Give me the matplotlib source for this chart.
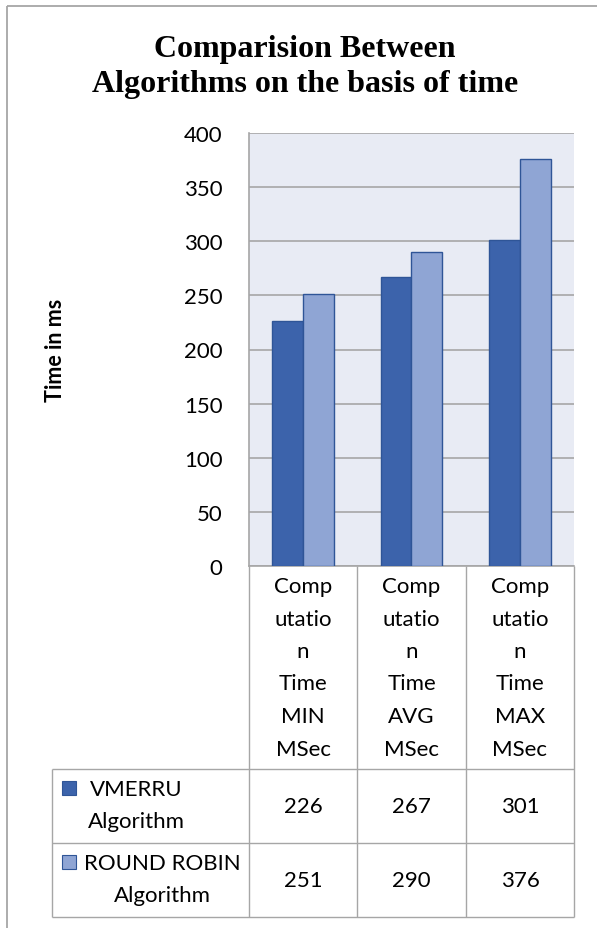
import matplotlib
matplotlib.use("Agg")
import matplotlib.pyplot as plt
from matplotlib.lines import Line2D
from matplotlib.patches import Rectangle
import numpy as np

# ---- data ----
categories = [
    ["Comp", "utatio", "n", "Time", "MIN", "MSec"],
    ["Comp", "utatio", "n", "Time", "AVG", "MSec"],
    ["Comp", "utatio", "n", "Time", "MAX", "MSec"],
]
series_names = [["VMERRU", "Algorithm"], ["ROUND ROBIN", "Algorithm"]]
vmerru = [226, 267, 301]
round_robin = [251, 290, 376]
yticks = [0, 50, 100, 150, 200, 250, 300, 350, 400]

title_lines = ["Comparision Between", "Algorithms on the basis of time"]
ylabel = "Time in ms"

# ---- style ----
W, H = 597, 929
DARK = "#3C63AB"
LIGHT = "#8FA5D4"
EDGE = "#2F5597"
GRID = "#A6A6A6"
PLOT_BG = "#E8EBF4"
FONT = "Lato"
FS = 16

fig = plt.figure(figsize=(W / 100, H / 100), dpi=100)
fig.patch.set_facecolor("white")


def fx(x):
    return x / W


def fy(y):
    return 1 - y / H


def hline(y, x0, x1, lw=1.0, color=GRID):
    fig.add_artist(Line2D([fx(x0), fx(x1)], [fy(y), fy(y)], color=color, lw=lw,
                          transform=fig.transFigure, solid_capstyle="butt"))


def vline(x, y0, y1, lw=1.0, color=GRID):
    fig.add_artist(Line2D([fx(x), fx(x)], [fy(y0), fy(y1)], color=color, lw=lw,
                          transform=fig.transFigure, solid_capstyle="butt"))


# chart frame (top and left edges)
hline(7, 7, W + 5, lw=1.3)
vline(7, 7, H + 5, lw=1.3)

# ---- plot area ----
px0, px1, py0, py1 = 249, 574, 134, 567
ax = fig.add_axes([fx(px0), fy(py1), fx(px1) - fx(px0), fy(py0) - fy(py1)])
ax.set_facecolor(PLOT_BG)

x = np.arange(len(categories))
bw = 0.286
ax.bar(x - bw / 2, vmerru, bw, color=DARK, edgecolor=EDGE, linewidth=1.0, zorder=3)
ax.bar(x + bw / 2, round_robin, bw, color=LIGHT, edgecolor=EDGE, linewidth=1.0, zorder=3)

ax.set_xlim(-0.5, len(categories) - 0.5)
ax.set_ylim(0, 400)
ax.set_yticks(yticks)
ax.set_yticklabels([str(t) for t in yticks], fontsize=FS, family=FONT, color="black")
ax.tick_params(axis="y", length=0, pad=19)
ax.set_xticks([])
ax.grid(axis="y", color=GRID, linewidth=1.2, zorder=0)
ax.set_axisbelow(True)
for side in ["top", "right"]:
    ax.spines[side].set_visible(False)
ax.spines["left"].set_color(GRID)
ax.spines["left"].set_linewidth(1.2)
ax.spines["bottom"].set_color(GRID)
ax.spines["bottom"].set_linewidth(1.2)

# ---- title and axis label ----
for k, s in enumerate(title_lines):
    fig.text(fx(305), fy(57 + k * 35), s, ha="center", va="baseline", fontsize=23,
             family="Liberation Serif", fontweight="bold")
fig.text(fx(56), fy(350), ylabel, ha="center", va="center", rotation=90,
         fontsize=15.5, family=FONT, fontweight="bold")

# ---- data table ----
col_edges = [249, 357, 466, 574]
row_edges = [770, 844, 918]
leg_left = 52

for cx in col_edges:
    vline(cx, py1, row_edges[-1])
vline(leg_left, row_edges[0], row_edges[-1])
for ry in row_edges:
    hline(ry, leg_left, col_edges[-1])

# header (category labels, one line each)
line_y0, line_step = 587, 32.5
for i, lines in enumerate(categories):
    cx = (col_edges[i] + col_edges[i + 1]) / 2
    for k, s in enumerate(lines):
        fig.text(fx(cx), fy(line_y0 + k * line_step), s, ha="center", va="center",
                 fontsize=FS, family=FONT)

# values
for r, vals in enumerate([vmerru, round_robin]):
    cy = (row_edges[r] + row_edges[r + 1]) / 2
    for i, v in enumerate(vals):
        cx = (col_edges[i] + col_edges[i + 1]) / 2
        fig.text(fx(cx), fy(cy), str(v), ha="center", va="center",
                 fontsize=FS, family=FONT)

# legend keys inside the table
key_colors = [DARK, LIGHT]
key_y = [782, 856]
text_cx = [136, 162]
for r, name in enumerate(series_names):
    fig.add_artist(Rectangle((fx(62), fy(key_y[r] + 14)), 14 / W, 14 / H,
                             transform=fig.transFigure, facecolor=key_colors[r],
                             edgecolor=EDGE, linewidth=0.8))
    top = row_edges[r]
    for k, s in enumerate(name):
        fig.text(fx(text_cx[r]), fy(top + 20 + k * 32), s, ha="center", va="center",
                 fontsize=FS, family=FONT)

fig.savefig("out.png", dpi=100, facecolor="white")
